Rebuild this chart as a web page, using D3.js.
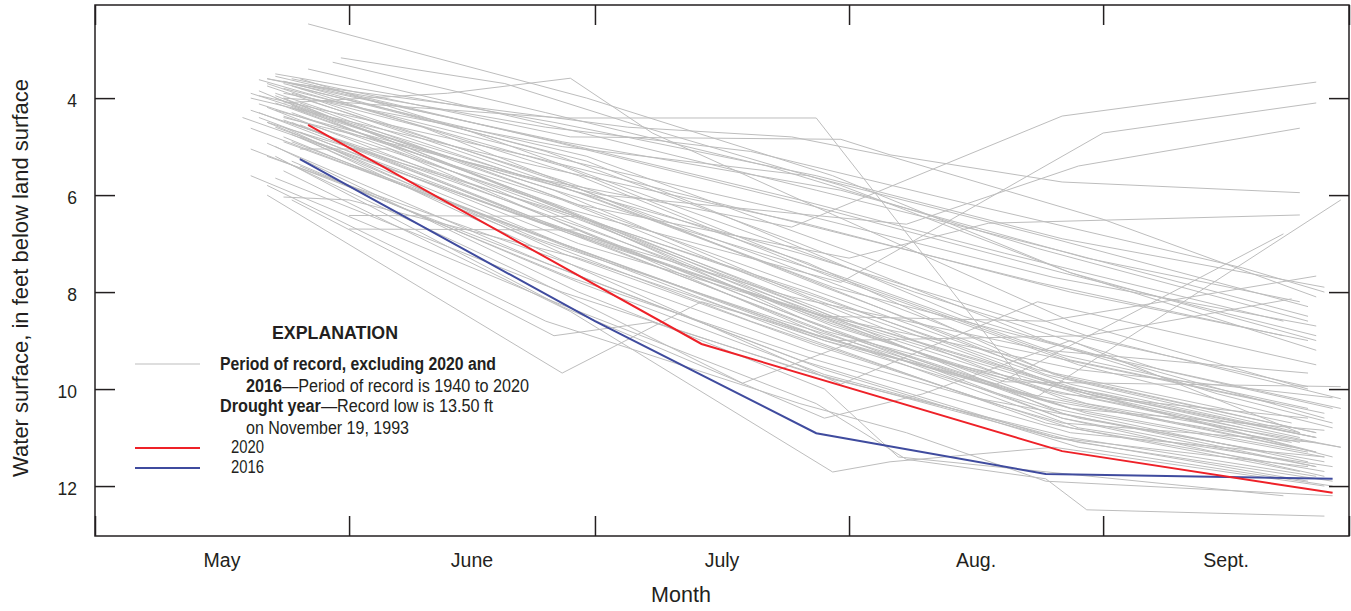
<!DOCTYPE html>
<html><head><meta charset="utf-8">
<script src="https://cdn.jsdelivr.net/npm/d3@7"></script>
<style>body{margin:0;background:#fff}svg{display:block}</style>
</head><body>
<svg id="chart" width="1351" height="611"></svg>
<script>
// ---------- data ----------
const monthStarts = ["05-01","06-01","07-01","08-01","09-01","10-01"];
const monthLabels = ["May","June","July","Aug.","Sept."];
const yTickValues = [4,6,8,10,12];

const drought2020 = [["05-27",4.55],["06-02",5.12],["07-14",9.07],["08-27",11.28],["09-29",12.14]];
const drought2016 = [["05-26",5.26],["07-01",8.6],["07-28",10.91],["08-25",11.75],["09-29",11.85]];

// Period of record (1940-2020, excluding 2020 and 2016)
const periodOfRecord = [
  [["05-27",2.47],["06-30",4.0],["07-30",5.6],["08-28",7.6],["09-27",9.2]],
  [["05-24",4.1],["06-13",3.9],["06-28",3.59],["07-08",4.72],["07-30",6.4],["08-28",8.6],["09-26",10.0]],
  [["05-24",4.0],["06-27",4.41],["07-28",4.41],["08-22",9.8],["09-01",10.1],["09-27",11.0]],
  [["05-25",3.6],["06-28",4.8],["07-31",4.85],["08-06",5.17],["08-27",5.73],["09-25",5.95]],
  [["05-25",3.7],["07-05",4.6],["07-25",4.8],["08-06",5.2],["09-01",6.5],["09-27",8.1]],
  [["05-23",3.9],["06-22",5.6],["07-25",6.66],["08-27",4.37],["09-27",3.67]],
  [["05-25",4.2],["06-28",6.3],["07-31",7.8],["09-01",4.72],["09-27",4.1]],
  [["05-24",4.4],["07-02",6.0],["08-08",6.6],["08-29",5.4],["09-25",4.62]],
  [["05-26",4.1],["06-29",6.2],["08-01",7.3],["08-18",6.58],["09-25",6.41]],
  [["05-24",4.0],["06-30",6.5],["07-30",8.6],["08-24",10.15],["09-30",6.1]],
  [["05-22",4.5],["06-27",7.0],["07-29",9.0],["08-19",9.9],["09-23",6.8]],
  [["05-23",4.6],["06-28",6.8],["07-29",8.5],["08-25",8.6],["09-27",7.67]],
  [["05-25",4.9],["06-30",7.2],["07-30",9.0],["08-30",8.9],["09-24",8.14]],
  [["05-22",6.0],["06-27",9.67],["07-14",8.2],["08-20",10.0],["09-24",11.2]],
  [["05-25",6.1],["06-26",8.9],["07-08",8.62],["07-30",9.8],["08-28",11.0],["09-27",11.8]],
  [["05-24",5.3],["06-22",7.6],["07-19",9.88],["08-02",9.0],["08-28",10.4],["09-26",11.3]],
  [["05-24",5.5],["06-28",8.4],["07-30",11.71],["08-06",11.5],["08-26",11.2],["09-28",12.0]],
  [["05-20",5.6],["06-26",8.2],["07-28",10.3],["08-08",11.45],["08-25",11.85],["08-30",12.49],["09-28",12.62]],
  [["05-23",5.0],["06-29",8.0],["07-29",10.0],["08-07",11.4],["09-23",12.2]],
  [["05-22",5.8],["06-25",8.6],["07-26",10.3],["08-08",10.9],["08-25",11.9],["09-29",12.2]],
  [["05-21",3.62],["06-27",5.4],["07-28",7.5],["08-27",9.3],["09-26",10.4]],
  [["05-24",3.65],["06-25",5.1],["07-26",7.0],["08-25",9.0],["09-28",10.6]],
  [["05-22",3.7],["06-28",5.8],["07-29",7.9],["08-28",9.8],["09-27",10.9]],
  [["05-20",3.9],["06-26",5.9],["07-27",8.1],["08-26",9.9],["09-25",11.0]],
  [["05-25",3.75],["06-29",5.6],["07-30",7.7],["08-29",9.5],["09-29",10.8]],
  [["05-23",4.0],["06-24",5.9],["07-25",7.8],["08-24",9.6],["09-24",10.7]],
  [["05-21",4.12],["06-27",6.1],["07-28",8.2],["08-27",10.2],["09-27",11.3]],
  [["05-26",3.8],["06-30",5.2],["07-31",7.1],["08-30",8.9],["09-30",10.2]],
  [["05-22",4.19],["06-23",6.3],["07-24",8.4],["08-26",10.4],["09-26",11.5]],
  [["05-24",4.37],["06-26",6.2],["07-27",8.6],["08-27",10.6],["09-27",11.6]],
  [["05-20",4.62],["06-25",6.9],["07-26",8.9],["08-25",10.7],["09-25",11.7]],
  [["05-25",4.2],["06-28",6.0],["07-29",7.6],["08-28",9.4],["09-28",10.5]],
  [["05-23",3.55],["06-26",4.9],["07-27",6.2],["08-27",7.6],["09-27",8.9]],
  [["05-27",3.4],["06-29",4.7],["07-28",5.9],["08-28",7.2],["09-26",8.5]],
  [["05-21",4.3],["06-24",6.5],["07-25",8.3],["08-25",10.0],["09-25",11.1]],
  [["05-24",4.6],["06-27",7.2],["07-28",9.1],["08-28",10.8],["09-28",11.7]],
  [["05-22",4.93],["06-25",7.4],["07-26",9.4],["08-26",11.0],["09-26",11.9]],
  [["05-20",5.05],["06-28",7.6],["07-29",9.6],["08-29",11.2],["09-29",12.0]],
  [["05-26",5.05],["06-06",5.05],["06-30",6.8],["07-30",8.8],["08-30",10.5],["09-28",11.4]],
  [["05-25",3.9],["06-10",4.6],["07-01",6.0],["07-22",7.3],["08-19",9.1],["09-22",10.3]],
  [["05-23",4.1],["06-15",5.5],["07-06",6.9],["08-03",8.7],["08-31",10.1],["09-27",11.0]],
  [["05-19",4.4],["06-20",6.3],["07-16",7.8],["08-14",9.5],["09-18",10.8]],
  [["05-26",3.6],["06-16",4.7],["07-12",6.3],["08-09",8.0],["09-08",9.6],["09-29",10.4]],
  [["05-24",4.8],["06-22",6.8],["07-20",8.6],["08-17",10.2],["09-21",11.3]],
  [["05-21",3.85],["06-29",6.6],["07-30",8.7],["08-30",10.3],["09-30",11.2]],
  [["05-27",4.05],["06-27",5.7],["07-27",7.4],["08-26",9.7],["09-27",10.9]],
  [["05-22",4.5],["06-28",6.4],["07-27",8.0],["08-28",10.0],["09-27",11.3]],
  [["05-25",5.3],["06-29",7.8],["07-29",9.7],["08-29",11.1],["09-29",11.9]],
  [["05-24",3.7],["06-30",5.3],["07-15",6.3],["08-15",8.5],["09-15",10.1],["09-29",10.7]],
  [["05-23",4.25],["06-26",5.8],["07-26",7.2],["08-26",8.8],["09-26",9.95]],
  [["05-21",3.95],["06-23",5.2],["07-24",6.5],["08-24",7.8],["09-23",8.9]],
  [["05-25",4.5],["06-25",6.6],["07-25",8.1],["08-25",9.2],["09-26",9.67]],
  [["05-26",4.7],["06-29",7.0],["07-29",8.5],["08-29",9.6],["09-29",10.18]],
  [["05-22",3.6],["06-27",4.9],["07-31",5.9],["08-30",7.3],["09-25",8.2]],
  [["05-24",3.8],["06-28",5.3],["07-24",6.3],["08-26",7.7],["09-27",8.7]],
  [["05-20",4.0],["06-24",5.4],["07-27",6.6],["08-28",8.0],["09-26",9.0]],
  [["05-23",3.5],["06-26",4.5],["07-28",5.6],["08-27",6.9],["09-28",7.9]],
  [["05-27",3.75],["06-29",5.0],["07-26",6.1],["08-20",7.2],["09-23",8.6]],
  [["05-25",4.15],["06-30",6.0],["07-30",7.9],["08-31",9.3],["09-30",10.4]],
  [["05-21",4.4],["06-28",6.8],["07-29",8.8],["08-27",10.1],["09-26",10.6]],
  [["05-24",4.9],["06-27",7.0],["07-28",8.9],["08-28",10.4],["09-28",10.85]],
  [["05-22",5.2],["06-26",7.3],["07-27",9.2],["08-27",10.7],["09-27",11.1]],
  [["05-26",5.4],["06-28",7.7],["07-28",9.4],["08-28",10.9],["09-28",11.4]],
  [["05-23",5.65],["06-27",8.0],["07-26",9.6],["08-26",11.0],["09-26",11.6]],
  [["05-25",4.75],["06-24",6.9],["07-24",8.6],["08-24",10.2],["09-24",11.1]],
  [["05-20",4.25],["06-29",6.5],["07-30",8.5],["08-30",10.1],["09-29",11.4]],
  [["05-24",4.45],["06-05",5.2],["06-30",6.7],["07-31",8.6],["08-31",10.2],["09-30",11.2]],
  [["05-23",3.95],["06-26",6.2],["07-27",8.3],["08-27",10.5],["09-27",11.6]],
  [["05-26",4.55],["06-27",6.7],["07-27",8.7],["08-27",10.6],["09-28",11.8]],
  [["05-22",3.75],["06-25",5.7],["07-25",7.6],["08-25",9.7],["09-25",10.9]],
  [["05-24",6.04],["06-01",6.1],["06-29",7.3],["07-29",9.0],["08-29",10.6],["09-28",11.5]],
  [["06-01",6.42],["06-29",6.44],["07-28",8.1],["08-28",9.9],["09-27",11.0]],
  [["06-01",6.7],["06-29",6.72],["07-29",8.9],["08-29",10.8],["09-29",11.6]],
  [["05-25",4.3],["06-28",6.4],["07-29",8.6],["08-20",9.85],["09-30",9.95]],
  [["05-31",3.17],["06-20",3.7],["07-05",4.5],["07-31",5.8],["08-28",7.6],["09-27",9.0]],
  [["05-30",3.26],["06-25",4.3],["07-22",5.4],["08-24",7.1],["09-26",8.6]],
  [["05-22",3.6],["06-25",4.6],["07-20",5.1],["08-16",6.2],["09-18",7.5],["09-28",8.0]],
  [["05-24",3.9],["06-27",5.0],["07-27",5.6],["08-26",6.9],["09-26",8.3]],
  [["05-23",5.2],["06-27",8.3],["07-29",10.6],["08-10",10.1],["08-28",9.0],["09-25",10.9]],
  [["05-26",4.8],["06-29",7.5],["07-31",9.9],["08-24",8.2],["09-27",9.5]]
];

// ---------- layout ----------
const svg = d3.select("#chart");
const L = 95, R = 1349, T = 5, B = 536;
const parse = d3.timeParse("%m-%d");
const x = d3.scaleTime().domain([parse("05-01"), parse("10-01")]).range([L, R]);
const y = d3.scaleLinear().domain([2.08, 13.03]).range([T, B]);
const ink = "#231f20";
const grayC = "#bdbdbd", redC = "#ee2128", blueC = "#3f4b9e";

svg.append("clipPath").attr("id","clip").append("rect")
  .attr("x",L).attr("y",T).attr("width",R-L).attr("height",B-T);

const line = d3.line().x(d => x(parse(d[0]))).y(d => y(d[1]));
const plot = svg.append("g").attr("clip-path","url(#clip)");
plot.selectAll("path.por").data(periodOfRecord).join("path")
  .attr("class","por").attr("d", line)
  .attr("fill","none").attr("stroke",grayC).attr("stroke-width",1);
plot.append("path").datum(drought2016).attr("d",line)
  .attr("fill","none").attr("stroke",blueC).attr("stroke-width",2);
plot.append("path").datum(drought2020).attr("d",line)
  .attr("fill","none").attr("stroke",redC).attr("stroke-width",2);

// axes (ticks pointing inward on all four sides)
const mTicks = monthStarts.map(parse);
function styleAxis(g){
  g.select(".domain").remove();
  g.selectAll("line").attr("stroke",ink).attr("stroke-width",1.5);
}
svg.append("g").attr("transform",`translate(0,${B})`)
  .call(d3.axisBottom(x).tickValues(mTicks).tickSize(-20).tickFormat(""))
  .call(styleAxis);
svg.append("g").attr("transform",`translate(0,${T})`)
  .call(d3.axisTop(x).tickValues(mTicks).tickSize(-20).tickFormat(""))
  .call(styleAxis);
svg.append("g").attr("transform",`translate(${R},0)`)
  .call(d3.axisRight(y).tickValues(yTickValues).tickSize(-20).tickFormat(""))
  .call(styleAxis);
const yAx = svg.append("g").attr("transform",`translate(${L},0)`)
  .call(d3.axisLeft(y).tickValues(yTickValues).tickSize(-20).tickPadding(18).tickFormat(d3.format("d")))
  .call(styleAxis);
yAx.selectAll("text").attr("font-family","'Liberation Sans',Arial,sans-serif")
  .attr("font-size",17.5).attr("fill",ink).attr("dy","0.5em");

// frame
svg.append("rect").attr("x",L).attr("y",T).attr("width",R-L).attr("height",B-T)
  .attr("fill","none").attr("stroke",ink).attr("stroke-width",1.5);

// month labels centred in each month
const font = "'Liberation Sans',Arial,sans-serif";
svg.append("g").selectAll("text").data(monthLabels).join("text")
  .attr("x",(d,i) => (x(mTicks[i]) + x(mTicks[i+1]))/2)
  .attr("y",567).attr("text-anchor","middle")
  .attr("font-family",font).attr("font-size",19.5).attr("fill",ink).text(d => d);

svg.append("text").attr("x",681).attr("y",602).attr("text-anchor","middle")
  .attr("font-family",font).attr("font-size",21.5).attr("fill",ink).text("Month");

svg.append("text").attr("transform","translate(28,278) rotate(-90)")
  .attr("text-anchor","middle").attr("font-family",font).attr("font-size",22)
  .attr("fill",ink).text("Water surface, in feet below land surface");

// ---------- explanation ----------
const lg = svg.append("g").attr("font-family",font).attr("font-size",17.5).attr("fill",ink);
function ltext(xp, yp, w, parts){
  const t = lg.append("text").attr("x",xp).attr("y",yp)
    .attr("textLength",w).attr("lengthAdjust","spacingAndGlyphs");
  parts.forEach(p => t.append("tspan").attr("font-weight",p[1]?"bold":"normal").text(p[0]));
  return t;
}
ltext(272,339,126,[["EXPLANATION",1]]);
ltext(220,370,276,[["Period of record, excluding 2020 and",1]]);
ltext(246,392,283,[["2016",1],["\u2014Period of record is 1940 to 2020",0]]);
ltext(220,412,273,[["Drought year",1],["\u2014Record low is 13.50 ft",0]]);
ltext(246,434,163,[["on November 19, 1993",0]]);
ltext(231,453,33,[["2020",0]]);
ltext(231,473,33,[["2016",0]]);
const legendLines = [[364,grayC,1],[448,redC,2],[468,blueC,2]];
lg.selectAll("line").data(legendLines).join("line")
  .attr("x1",135).attr("x2",200).attr("y1",d=>d[0]).attr("y2",d=>d[0])
  .attr("stroke",d=>d[1]).attr("stroke-width",d=>d[2]);
</script>
</body></html>
